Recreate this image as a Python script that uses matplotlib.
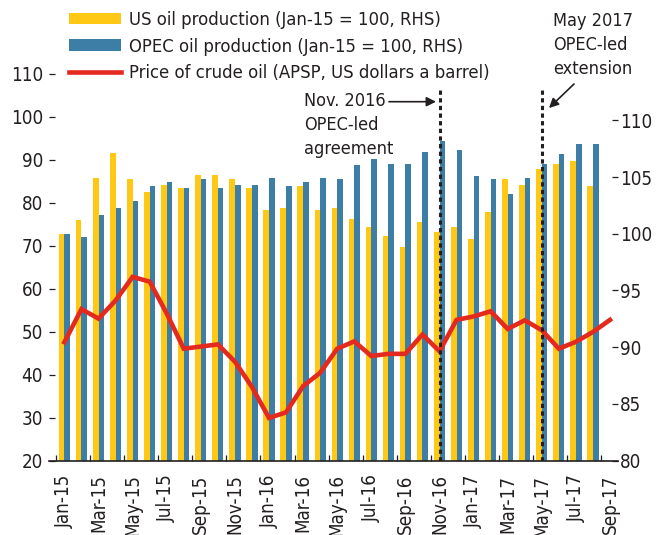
import matplotlib
matplotlib.use("Agg")
import matplotlib.pyplot as plt
import numpy as np

plt.rcParams['font.family'] = ['DejaVu Sans']
plt.rcParams['font.stretch'] = 'condensed'

months = ["Jan-15", "Feb-15", "Mar-15", "Apr-15", "May-15", "Jun-15", "Jul-15", "Aug-15",
          "Sep-15", "Oct-15", "Nov-15", "Dec-15", "Jan-16", "Feb-16", "Mar-16", "Apr-16",
          "May-16", "Jun-16", "Jul-16", "Aug-16", "Sep-16", "Oct-16", "Nov-16", "Dec-16",
          "Jan-17", "Feb-17", "Mar-17", "Apr-17", "May-17", "Jun-17", "Jul-17", "Aug-17",
          "Sep-17"]

us_prod = [100.0, 101.2, 104.9, 107.1, 104.8, 103.7, 104.3, 104.0, 105.2, 105.2, 104.8, 104.0,
           102.1, 102.3, 104.2, 102.1, 102.3, 101.3, 100.6, 99.8, 98.8, 101.0, 100.2, 100.6,
           99.5, 101.9, 104.8, 104.3, 105.7, 106.2, 106.4, 104.2]
opec_prod = [100.0, 99.7, 101.7, 102.3, 102.9, 104.2, 104.6, 104.0, 104.8, 104.0, 104.3, 104.3,
             104.9, 104.2, 104.6, 104.9, 104.8, 106.1, 106.6, 106.2, 106.2, 107.2, 108.2, 107.4,
             105.1, 104.8, 103.5, 104.9, 106.2, 107.0, 107.9, 107.9]
price = [47.5, 55.2, 53.0, 57.2, 62.7, 61.6, 54.2, 46.0, 46.5, 47.0, 43.0, 37.1,
         29.9, 31.2, 37.3, 40.4, 46.0, 47.7, 44.3, 44.8, 44.8, 49.3, 45.4, 52.7,
         53.5, 54.7, 50.6, 52.6, 50.3, 46.0, 47.6, 49.9, 52.7]

left_ticks = [20, 30, 40, 50, 60, 70, 80, 90, 100, 110]
right_ticks = [80, 85, 90, 95, 100, 105, 110]
events = {"Nov-16": "Nov. 2016\nOPEC-led\nagreement", "May-17": "May 2017\nOPEC-led\nextension"}

YELLOW = "#FFC814"
BLUE = "#3D7EA6"
RED = "#E42A1E"
TXT = "#231F20"

W, H = 668, 535
fig = plt.figure(figsize=(W / 100, H / 100), dpi=100)
ax = fig.add_axes([49.3 / W, 1 - 460.5 / H, 568.2 / W, (460.5 - 60.6) / H])
ax2 = ax.twinx()

x_bar = np.arange(len(us_prod))
x_line = np.arange(len(price))
bw = 0.33
b1 = ax2.bar(x_bar - bw / 2, us_prod, bw, color=YELLOW, label="US oil production (Jan-15 = 100, RHS)")
b2 = ax2.bar(x_bar + bw / 2, opec_prod, bw, color=BLUE, label="OPEC oil production (Jan-15 = 100, RHS)")

ax.set_zorder(ax2.get_zorder() + 1)
ax.patch.set_visible(False)
l1, = ax.plot(x_line, price, color=RED, lw=3.3, solid_joinstyle='miter',
              label="Price of crude oil (APSP, US dollars a barrel)")

lmin, lmax = 20, 113
ax.set_ylim(lmin, lmax)
ratio = 11.31 / 4.291
ax2.set_ylim(80, 80 + (lmax - lmin) / ratio)
ax.set_xlim(-0.886, 32.44)

ax.set_yticks(left_ticks)
ax2.set_yticks(right_ticks)
ax.set_xticks(x_line[::2])
ax.set_xticklabels(months[::2], rotation=90)
ax.set_xticks(np.arange(-0.5, 32, 2), minor=True)

for a in (ax, ax2):
    for s in a.spines.values():
        s.set_visible(False)
ax.spines['bottom'].set_visible(True)
ax.spines['bottom'].set_color(TXT)
ax.spines['bottom'].set_linewidth(1.2)

ax.tick_params(axis='y', direction='in', length=4, width=0.9, color=TXT,
               labelsize=13.5, labelcolor=TXT, pad=4.5)
ax2.tick_params(axis='y', direction='in', length=4, width=0.9, color=TXT,
                labelsize=13.5, labelcolor=TXT, pad=2)
ax.tick_params(axis='x', which='major', length=0, labelsize=13.5, labelcolor=TXT, pad=10)
ax.tick_params(axis='x', which='minor', direction='in', length=4, width=0.9, color=TXT)

# event lines
ytop = lmin + (460.5 - 90) / 4.291
for m in events:
    ax.plot([months.index(m)] * 2, [lmin, ytop], color=TXT, lw=2.2,
            dashes=(1.4, 1.1), zorder=5)

def fy(y):
    return H - y

fig.text(304 / W, fy(92.5) / H, events["Nov-16"], fontsize=13, color=TXT,
         ha='left', va='top', linespacing=1.4)
fig.text(553 / W, fy(12.5) / H, events["May-17"], fontsize=13, color=TXT,
         ha='left', va='top', linespacing=1.4)
ax.annotate("", xy=(436, fy(101.7)), xycoords='figure pixels',
            xytext=(389, fy(101.7)), textcoords='figure pixels',
            arrowprops=dict(arrowstyle='-|>', color=TXT, lw=1.2,
                            mutation_scale=14, shrinkA=0, shrinkB=0))
ax.annotate("", xy=(549, fy(108)), xycoords='figure pixels',
            xytext=(574, fy(84)), textcoords='figure pixels',
            arrowprops=dict(arrowstyle='-|>', color=TXT, lw=1.2,
                            mutation_scale=14, shrinkA=0, shrinkB=0))

leg = fig.legend(handles=[b1, b2, l1], loc='upper left',
                 bbox_to_anchor=(69 / W, fy(10.7) / H), frameon=False,
                 fontsize=13.2, handlelength=2.84, handleheight=0.58,
                 handletextpad=0.44, labelspacing=0.48, borderpad=0, borderaxespad=0)
for t in leg.get_texts():
    t.set_color(TXT)

fig.savefig("out.png", dpi=100)
